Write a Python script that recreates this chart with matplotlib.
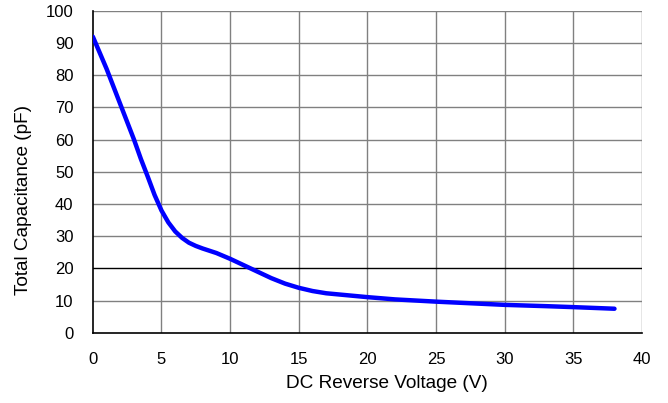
import matplotlib.pyplot as plt

plt.rcParams['font.family'] = ['Liberation Sans', 'DejaVu Sans']

# data
voltage = [0, 0.5, 1, 1.5, 2, 2.5, 3, 3.5, 4, 4.5, 5, 5.5, 6, 6.5, 7, 7.5, 8,
           8.5, 9, 9.5, 10, 11, 12, 13, 14, 15, 16, 17, 18, 19, 20, 22, 25,
           28, 30, 33, 35, 38]
capacitance = [92, 87, 82, 76.5, 71, 65.5, 60, 54, 48.5, 42.8, 38, 34.3, 31.5,
               29.5, 28, 27, 26.2, 25.5, 24.8, 23.9, 23, 21, 19, 17, 15.3,
               14, 13, 12.3, 11.9, 11.5, 11.1, 10.4, 9.7, 9.1, 8.7, 8.3, 8.0,
               7.5]

x_ticks = list(range(0, 45, 5))
y_ticks = list(range(0, 110, 10))

fig = plt.figure(figsize=(6.68, 4.03), dpi=100)
ax = fig.add_axes([0.139, 0.174, 0.822, 0.799])

# grid
for xv in x_ticks[1:]:
    ax.axvline(xv, color='#808080', lw=1.0, zorder=1)
for yv in y_ticks[1:]:
    col = 'black' if yv == 20 else '#808080'
    ax.axhline(yv, color=col, lw=1.0, zorder=1)

ax.plot(voltage, capacitance, color='#0000ff', lw=3.2, zorder=3,
        solid_capstyle='round', solid_joinstyle='round')

ax.set_xlim(0, 40)
ax.set_ylim(0, 100)
ax.set_xticks(x_ticks)
ax.set_yticks(y_ticks)
ax.tick_params(length=0, labelsize=12)
ax.tick_params(axis='y', pad=14)
ax.tick_params(axis='x', pad=14)
ax.spines['top'].set_visible(False)
ax.spines['right'].set_visible(False)
for s in ['left', 'bottom']:
    ax.spines[s].set_color('black')
    ax.spines[s].set_linewidth(1.2)

ax.set_xlabel('DC Reverse Voltage (V)', fontsize=13.7, va='center')
ax.set_ylabel('Total Capacitance (pF)', fontsize=13.7, va='center')
ax.xaxis.set_label_coords(0.535, -0.158)
ax.yaxis.set_label_coords(-0.127, 0.413)

fig.savefig('out.png', dpi=100)
